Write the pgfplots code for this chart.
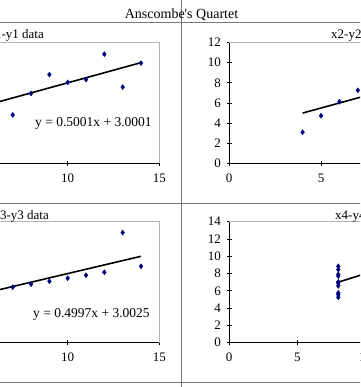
\documentclass[border=0pt]{standalone}
\usepackage{fontspec}
\setmainfont{Liberation Serif}
\usepackage{pgfplots}
\pgfplotsset{compat=1.18}
\definecolor{navy}{RGB}{0,0,128}
\definecolor{framegray}{RGB}{120,120,120}
\pgfplotsset{
 ansc/.style={
  scale only axis, height=121pt,
  axis x line*=bottom, axis y line*=left,
  axis line style={black, line width=0.8pt},
  tick align=center, major tick length=5pt,
  tick style={black, line width=0.8pt},
  xmin=0, ymin=0,
  ticklabel style={font=\fontsize{13}{15}\selectfont},
  xticklabel style={yshift=-4pt},
  yticklabel style={xshift=-2pt},
  /pgf/number format/assume math mode=true,
  clip=false,
  anchor=south west,
 },
 pts/.style={only marks, mark=diamond*, mark size=2.5pt, color=navy},
 trend/.style={no marks, black, line width=1.6pt},
}
\begin{document}
\begin{tikzpicture}
\useasboundingbox (0pt,0pt) rectangle (360pt,387pt);
\clip (0pt,0pt) rectangle (360pt,387pt);
% chart area frames
\draw[framegray, line width=0.9pt] (-50pt,364.7pt) -- (420pt,364.7pt);
\draw[framegray, line width=0.9pt] (-50pt,183.7pt) -- (420pt,183.7pt);
\draw[framegray, line width=0.9pt] (-50pt,4.3pt) -- (420pt,4.3pt);
\draw[framegray, line width=0.9pt] (181.7pt,-10pt) -- (181.7pt,400pt);
\node[anchor=base, inner sep=0, font=\fontsize{14}{16}\selectfont] at (181.5pt,368pt) {Anscombe\textquotesingle s Quartet};

% x1-y1
\begin{axis}[ansc, at={(-115.5pt,223.5pt)}, width=274.8pt, xmax=15, ymax=12,
  xtick={0,5,10,15}, ytick={0,2,4,6,8,10,12}]
\draw[gray!60, line width=0.8pt] (rel axis cs:0,1) -- (rel axis cs:1,1) -- (rel axis cs:1,0);
\addplot[trend] coordinates {(4,5.0005) (14,10.0015)};
\addplot[pts] coordinates {(10,8.04) (8,6.95) (13,7.58) (9,8.81) (11,8.33) (14,9.96) (6,7.24) (4,4.26) (12,10.84) (7,4.82) (5,5.68)};
\end{axis}

% x2-y2
\begin{axis}[ansc, at={(229pt,223.5pt)}, width=276pt, xmax=15, ymax=12,
  xtick={0,5,10,15}, ytick={0,2,4,6,8,10,12}]
\draw[gray!60, line width=0.8pt] (rel axis cs:0,1) -- (rel axis cs:1,1) -- (rel axis cs:1,0);
\addplot[trend] coordinates {(4,5.0009) (14,10.0009)};
\addplot[pts] coordinates {(10,9.14) (8,8.14) (13,8.74) (9,8.77) (11,9.26) (14,8.10) (6,6.13) (4,3.10) (12,9.13) (7,7.26) (5,4.74)};
\end{axis}

% x3-y3
\begin{axis}[ansc, at={(-115.5pt,44.3pt)}, width=274.8pt, xmax=15, ymax=14,
  xtick={0,5,10,15}, ytick={0,2,4,6,8,10,12,14}]
\draw[gray!60, line width=0.8pt] (rel axis cs:0,1) -- (rel axis cs:1,1) -- (rel axis cs:1,0);
\addplot[trend] coordinates {(4,5.0013) (14,9.9983)};
\addplot[pts] coordinates {(10,7.46) (8,6.77) (13,12.74) (9,7.11) (11,7.81) (14,8.84) (6,6.08) (4,5.39) (12,8.15) (7,6.42) (5,5.73)};
\end{axis}

% x4-y4
\begin{axis}[ansc, at={(229pt,44.3pt)}, width=273.2pt, xmax=20, ymax=14,
  xtick={0,5,10,15,20}, ytick={0,2,4,6,8,10,12,14}]
\draw[gray!60, line width=0.8pt] (rel axis cs:0,1) -- (rel axis cs:1,1) -- (rel axis cs:1,0);
\addplot[trend] coordinates {(8,7.0009) (19,12.4998)};
\addplot[pts] coordinates {(8,6.58) (8,5.76) (8,7.71) (8,8.84) (8,8.47) (8,7.04) (8,5.25) (19,12.50) (8,5.56) (8,7.91) (8,6.89)};
\end{axis}

% panel titles and equations
\node[anchor=base east, inner sep=0, font=\fontsize{13}{15}\selectfont] at (44pt,348pt) {x1-y1 data};
\node[anchor=base west, inner sep=0, font=\fontsize{13}{15}\selectfont] at (331pt,348pt) {x2-y2 data};
\node[anchor=base east, inner sep=0, font=\fontsize{13}{15}\selectfont] at (49pt,167pt) {x3-y3 data};
\node[anchor=base west, inner sep=0, font=\fontsize{13}{15}\selectfont] at (335pt,167pt) {x4-y4 data};
\node[anchor=base west, inner sep=0, font=\fontsize{13.5}{15}\selectfont] at (35pt,260pt) {y = 0.5001x + 3.0001};
\node[anchor=base west, inner sep=0, font=\fontsize{13.5}{15}\selectfont] at (33pt,69pt) {y = 0.4997x + 3.0025};
\end{tikzpicture}
\end{document}
